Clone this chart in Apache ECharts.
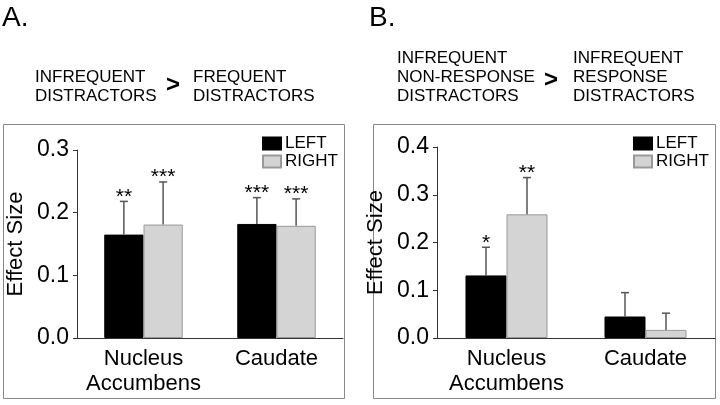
<!DOCTYPE html>
<html>
<head>
<meta charset="utf-8">
<script src="https://cdn.jsdelivr.net/npm/echarts@6/dist/echarts.min.js"></script>
<style>
  html, body { margin: 0; padding: 0; background: #fff; }
  #main { width: 720px; height: 405px; }
</style>
</head>
<body>
<div id="main"></div>
<script>
// data
const categories = ['Nucleus\nAccumbens', 'Caudate'];
const seriesNames = ['LEFT', 'RIGHT'];

// panel A: infrequent > frequent distractors
const aLeft = [0.165, 0.182];
const aRight = [0.181, 0.179];
const aLeftErr = [0.053, 0.042];
const aRightErr = [0.068, 0.043];
const aLeftStars = ['**', '***'];
const aRightStars = ['***', '***'];

// panel B: infrequent non-response > infrequent response distractors
const bLeft = [0.131, 0.045];
const bRight = [0.259, 0.017];
const bLeftErr = [0.059, 0.050];
const bRightErr = [0.077, 0.035];
const bLeftStars = ['*', ''];
const bRightStars = ['**', ''];

const FONT = 'Liberation Sans, Arial, Helvetica, sans-serif';
const GAP = 0.41; // barCategoryGap as fraction

let myChart = echarts.init(document.getElementById('main'), null, { renderer: 'canvas' });

// error bar + significance stars, drawn over the bars
function errSeries(gridIdx, vals, errs, stars, side) {
  return {
    type: 'custom',
    xAxisIndex: gridIdx,
    yAxisIndex: gridIdx,
    z: 5,
    silent: true,
    data: vals.map((v, i) => [i, v, errs[i]]),
    renderItem: function (params, api) {
      const i = api.value(0);
      const catW = api.size([1, 0])[0];
      const off = side * catW * (1 - GAP) / 4;
      const p0 = api.coord([i, api.value(1)]);
      const p1 = api.coord([i, api.value(1) + api.value(2)]);
      const x = p0[0] + off;
      const children = [
        { type: 'line', shape: { x1: x, y1: p0[1], x2: x, y2: p1[1] }, style: { stroke: '#555', lineWidth: 1.5 } },
        { type: 'line', shape: { x1: x - 4, y1: p1[1], x2: x + 4, y2: p1[1] }, style: { stroke: '#555', lineWidth: 1.5 } }
      ];
      const s = stars[params.dataIndex];
      if (s) {
        children.push({
          type: 'text',
          style: { text: s, x: x, y: p1[1] + 6, align: 'center', verticalAlign: 'bottom', font: '21px ' + FONT, fill: '#000' }
        });
      }
      return { type: 'group', children: children };
    }
  };
}

function barSeries(gridIdx, name, vals, color, border) {
  return {
    name: name,
    type: 'bar',
    xAxisIndex: gridIdx,
    yAxisIndex: gridIdx,
    data: vals,
    barGap: '0%',
    barCategoryGap: (GAP * 100) + '%',
    itemStyle: { color: color, borderColor: border, borderWidth: 1 }
  };
}

function xAxisOf(gridIdx) {
  return {
    type: 'category',
    gridIndex: gridIdx,
    data: categories,
    axisLine: { lineStyle: { color: '#333', width: 1 } },
    axisTick: { show: false },
    axisLabel: { interval: 0, color: '#000', fontFamily: FONT, fontSize: 22, lineHeight: 25, margin: 8 }
  };
}

function yAxisOf(gridIdx, max) {
  return {
    type: 'value',
    gridIndex: gridIdx,
    min: 0,
    max: max,
    interval: 0.1,
    name: 'Effect Size',
    nameLocation: 'middle',
    nameGap: 50,
    nameTextStyle: { color: '#000', fontFamily: FONT, fontSize: 22 },
    splitLine: { show: false },
    axisLine: { show: true, lineStyle: { color: '#333', width: 1 } },
    axisTick: { show: true, length: 4, lineStyle: { color: '#333' } },
    axisLabel: { color: '#000', fontFamily: FONT, fontSize: 23, margin: 8, formatter: v => v.toFixed(1) }
  };
}

function legendOf(left) {
  return {
    data: seriesNames,
    orient: 'vertical',
    left: left,
    top: 130,
    icon: 'rect',
    itemWidth: 18,
    itemHeight: 12,
    itemGap: 1,
    selectedMode: false,
    textStyle: { color: '#000', fontFamily: FONT, fontSize: 17, padding: [0, 0, 0, -1] }
  };
}

function headText(x, y, lines, size) {
  return {
    type: 'text', left: x, top: y,
    style: { text: lines.join('\n'), font: size + 'px ' + FONT, fill: '#000', lineHeight: 19 }
  };
}

let option = {
  animation: false,
  backgroundColor: '#fff',
  grid: [
    { left: 77, right: 377, top: 150, bottom: 67 },
    { left: 437, right: 5, top: 147, bottom: 67 }
  ],
  xAxis: [xAxisOf(0), xAxisOf(1)],
  yAxis: [yAxisOf(0, 0.3), yAxisOf(1, 0.4)],
  legend: [legendOf(257), legendOf(628)],
  graphic: [
    { type: 'rect', shape: { x: 3.5, y: 124.5, width: 341, height: 274 }, style: { fill: 'none', stroke: '#888', lineWidth: 1 } },
    { type: 'rect', shape: { x: 373.5, y: 124.5, width: 342, height: 274 }, style: { fill: 'none', stroke: '#888', lineWidth: 1 } },
    { type: 'text', left: 2, top: 4, style: { text: 'A.', font: '28px ' + FONT, fill: '#000' } },
    { type: 'text', left: 369, top: 4, style: { text: 'B.', font: '28px ' + FONT, fill: '#000' } },
    headText(35, 68, ['INFREQUENT', 'DISTRACTORS'], 17),
    { type: 'text', left: 166, top: 73, style: { text: '>', font: 'bold 24px ' + FONT, fill: '#000' } },
    headText(193, 68, ['FREQUENT', 'DISTRACTORS'], 17),
    headText(397, 49, ['INFREQUENT', 'NON-RESPONSE', 'DISTRACTORS'], 17),
    { type: 'text', left: 544, top: 68, style: { text: '>', font: 'bold 24px ' + FONT, fill: '#000' } },
    headText(573, 49, ['INFREQUENT', 'RESPONSE', 'DISTRACTORS'], 17)
  ],
  series: [
    barSeries(0, 'LEFT', aLeft, '#000', '#000'),
    barSeries(0, 'RIGHT', aRight, '#d4d4d4', '#999'),
    barSeries(1, 'LEFT', bLeft, '#000', '#000'),
    barSeries(1, 'RIGHT', bRight, '#d4d4d4', '#999'),
    errSeries(0, aLeft, aLeftErr, aLeftStars, -1),
    errSeries(0, aRight, aRightErr, aRightStars, 1),
    errSeries(1, bLeft, bLeftErr, bLeftStars, -1),
    errSeries(1, bRight, bRightErr, bRightStars, 1)
  ]
};
myChart.setOption(option);
</script>
</body>
</html>
